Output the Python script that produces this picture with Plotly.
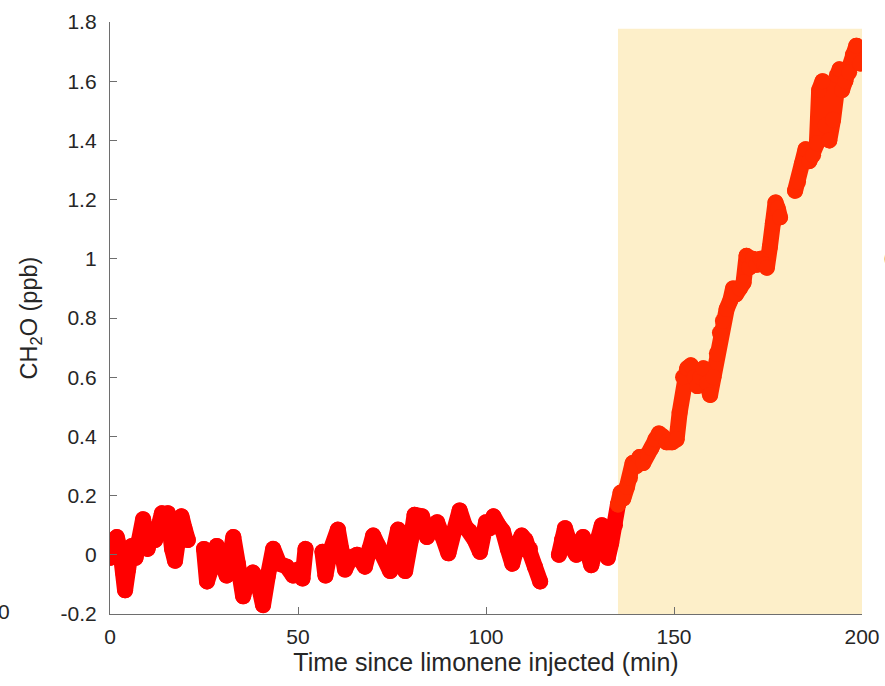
import plotly.graph_objects as go

# ---- data (min, ppb); None marks gaps in the record ----
time_before = [0, 0.8, 1.8, 2.8, 3.5, 4.0, 4.8, 5.8, 6.8, 7.8, 8.8, 10.0, 11.0, 12.0, 13.0, 13.8, 14.6, 15.4,
               16.5, 17.3, 18.2, 19.0, 19.8, 20.7, 22.8,
               25.0, 25.8, 26.8, 27.6, 28.4, 29.5, 31.0, 32.0, 32.8, 34.0, 35.4, 36.5, 38.0, 39.5, 40.7, 42.0,
               43.4, 45.0, 47.0, 48.7, 50.0, 51.2, 52.0, 54.2,
               56.5, 57.3, 58.5, 60.6, 61.5, 62.5, 64.0, 65.7, 67.8, 69.0, 70.0, 71.3, 72.6, 74.5, 75.5, 76.6,
               77.5, 78.5, 80.0, 81.0, 83.0, 84.3, 85.5, 87.0, 88.5, 90.0, 91.5, 93.0, 94.3, 95.7, 97.0, 98.4,
               100.0, 101.0, 102.0, 103.3, 104.5, 105.8, 107.0, 108.3, 109.5, 110.5, 111.7, 113.0, 114.4, 117.0,
               119.4, 120.2, 121.0, 122.5, 124.0, 125.8, 127.0, 128.0, 129.5, 130.8, 131.6, 132.4, 133.3, 134.3,
               135.1]
ch2o_before = [-0.01, 0.04, 0.06, 0.01, -0.06, -0.12, -0.05, 0.03, -0.01, 0.05, 0.12, 0.02, 0.07, 0.05, 0.09,
               0.14, 0.10, 0.14, 0.02, -0.02, 0.06, 0.13, 0.09, 0.05, None,
               0.02, -0.09, -0.05, -0.01, 0.03, -0.02, -0.07, 0.0, 0.06, -0.03, -0.14, -0.09, -0.06, -0.10,
               -0.17, -0.07, 0.02, -0.03, -0.04, -0.07, -0.05, -0.08, 0.02, None,
               0.01, -0.07, 0.01, 0.085, 0.02, -0.05, -0.01, 0.0, -0.04, 0.02, 0.065, 0.03, 0.0, -0.055, 0.02,
               0.085, 0.02, -0.055, 0.05, 0.135, 0.13, 0.06, 0.09, 0.11, 0.06, 0.005, 0.08, 0.15, 0.10, 0.08,
               0.05, 0.01, 0.11, 0.09, 0.13, 0.10, 0.08, 0.02, -0.03, 0.03, 0.065, 0.05, 0.02, -0.04, -0.09, None,
               0.0, 0.05, 0.09, 0.03, 0.0, 0.06, 0.02, -0.035, 0.04, 0.10, 0.05, -0.01, 0.04, 0.10, 0.17]

time_after = [135.1, 135.8, 136.5, 137.5, 138.3, 139.0, 140.0, 140.8, 141.8, 143.0, 144.0, 145.0, 146.0,
              147.0, 148.0, 149.5, 150.7, 151.5, 152.4, 153.5, 154.5, 155.5, 156.2, 157.0, 157.8, 158.8,
              159.6, 160.5, 161.4, 162.2, 163.0, 164.0, 165.0, 165.7, 166.5, 167.5, 168.5, 169.3, 170.0,
              171.0, 172.0, 173.0, 174.0, 174.7, 175.5, 176.3, 177.0, 177.6, 178.2, 180.0,
              182.2, 183.0, 184.0, 185.0, 186.0, 187.0, 188.0, 188.6, 189.5, 190.3, 191.3, 192.3, 193.3,
              194.0, 194.7, 195.6, 196.6, 197.6, 198.5, 199.5]
ch2o_after = [0.17, 0.21, 0.19, 0.23, 0.26, 0.31, 0.30, 0.33, 0.31, 0.34, 0.36, 0.39, 0.41, 0.40, 0.38,
              0.38, 0.39, 0.48, 0.60, 0.63, 0.64, 0.60, 0.57, 0.60, 0.63, 0.58, 0.54, 0.60, 0.68, 0.75,
              0.79, 0.83, 0.86, 0.90, 0.88, 0.90, 0.92, 1.01, 0.97, 1.00, 0.98, 1.00, 0.98, 0.97, 1.04,
              1.12, 1.19, 1.17, 1.14, None,
              1.23, 1.26, 1.32, 1.37, 1.33, 1.35, 1.39, 1.57, 1.60, 1.45, 1.40, 1.47, 1.62, 1.64, 1.57,
              1.60, 1.63, 1.69, 1.72, 1.66]

shade_start = 135.1
shade_end = 200.8
shade_top = 1.777

x_ticks = [0, 50, 100, 150, 200]
y_ticks = [-0.2, 0, 0.2, 0.4, 0.6, 0.8, 1, 1.2, 1.4, 1.6, 1.8]
y_tick_text = ["-0.2", "0", "0.2", "0.4", "0.6", "0.8", "1", "1.2", "1.4", "1.6", "1.8"]

FONT = "Liberation Sans, Arial, Helvetica, sans-serif"
TEXT = "#262626"
AX = "#6e6e6e"

fig = go.Figure()

fig.add_shape(type="rect", xref="x", yref="y", x0=shade_start, x1=shade_end, y0=-0.2, y1=shade_top,
              fillcolor="#fdefc9", line_width=0, layer="below")

for t, v, c in [(time_before, ch2o_before, "#ff0000"), (time_after, ch2o_after, "#ff2a00")]:
    fig.add_trace(go.Scatter(x=t, y=v, mode="lines+markers", connectgaps=False,
                             line=dict(color=c, width=16),
                             marker=dict(color=c, size=16, line=dict(width=0)),
                             showlegend=False, hoverinfo="skip"))

fig.update_layout(
    width=885, height=686,
    margin=dict(l=110, r=23, t=22, b=72, autoexpand=False),
    paper_bgcolor="white", plot_bgcolor="white",
    font=dict(family=FONT, color=TEXT, size=21),
    showlegend=False,
)
fig.update_xaxes(range=[0, 200], tickvals=x_ticks, ticks="inside", ticklen=7, tickcolor=AX, tickwidth=1.3,
                 showline=True, linecolor=AX, linewidth=1.3, showgrid=False, zeroline=False,
                 ticklabelstandoff=4, automargin=False,
                 title=dict(text="Time since limonene injected (min)", font=dict(size=25, color=TEXT), standoff=6))
fig.update_yaxes(range=[-0.2, 1.8], tickvals=y_ticks, ticktext=y_tick_text, ticks="inside", ticklen=7,
                 tickcolor=AX, tickwidth=1.3, showline=True, linecolor=AX, linewidth=1.3, showgrid=False,
                 zeroline=False, ticklabelstandoff=8, automargin=False,
                 title=dict(text="CH<sub>2</sub>O (ppb)", font=dict(size=23.5, color=TEXT), standoff=16))

# cropped fragments of neighbouring panels visible at the image edges
fig.add_annotation(text="0", xref="paper", yref="paper", x=(4 - 110) / 752, y=(614 - 611) / 592,
                   showarrow=False, font=dict(size=21, color=TEXT), xanchor="center", yanchor="middle")
fig.add_annotation(text="0", xref="paper", yref="paper", x=(890 - 110) / 752, y=(614 - 258) / 592,
                   showarrow=False, font=dict(size=21, color=TEXT), xanchor="center", yanchor="middle")

# round joins/caps so the thick trace looks like overlapping round markers
post = """
var gd = document.getElementById('{plot_id}');
gd.querySelectorAll('.scatterlayer .js-line').forEach(function(p){
  p.style.strokeLinejoin = 'round';
  p.style.strokeLinecap = 'round';
});
"""
fig.write_html("out.html", post_script=post)
